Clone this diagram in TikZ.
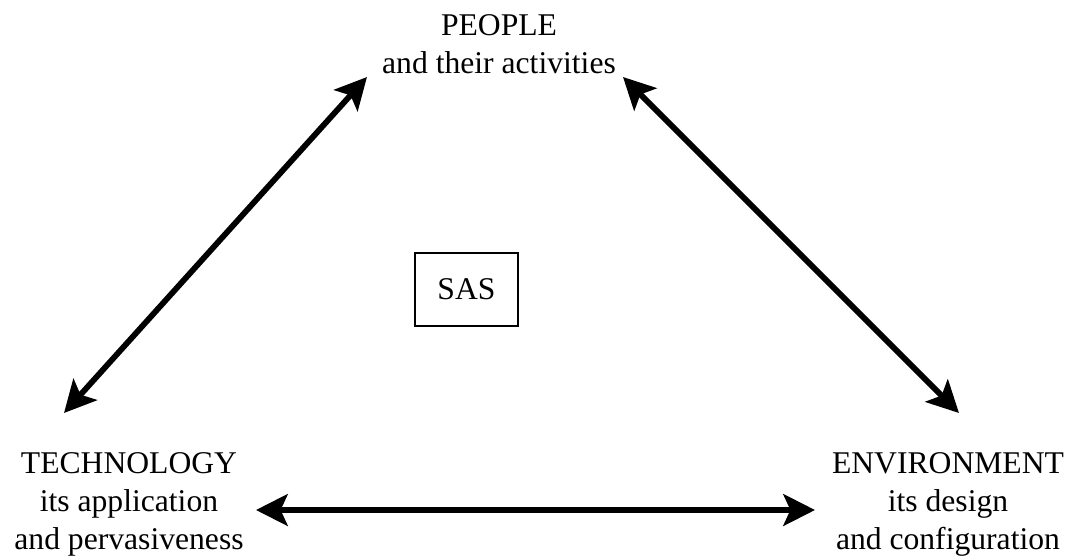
\documentclass[tikz,border=0pt]{standalone}
\usepackage{fontspec}
\setmainfont{Liberation Serif}
\usetikzlibrary{arrows.meta,positioning}

\begin{document}
\begin{tikzpicture}[x=0.02cm,y=-0.02cm,
  lbl/.style={align=center,inner sep=0pt,anchor=north,font=\fontsize{18}{21.6}\selectfont},
  link/.style={{Stealth[length=18pt,width=18pt,inset=4pt]}-{Stealth[length=18pt,width=18pt,inset=4pt]},line width=3.3pt}]
\useasboundingbox (0,0) rectangle (1076,556);
% the three corners
\node[lbl] (people) at (499,14) {PEOPLE\\and their activities};
\node[lbl] (tech) at (129,452) {TECHNOLOGY\\its application\\and pervasiveness};
\node[lbl] (env) at (948,452) {ENVIRONMENT\\its design\\and configuration};
\node[draw,line width=1.3pt,minimum width=58.6pt,minimum height=41.5pt,font=\fontsize{18}{21.6}\selectfont] (sas) at (466.5,289.5) {SAS};
% arrow ends
\coordinate (tech-up) at (64,413);
\coordinate (people-left) at (367,77);
\coordinate (people-right) at (623,77);
\coordinate (env-up) at (959,413);
\coordinate (tech-right) at (256,510);
\coordinate (env-left) at (815,510);
\draw[link] (tech-up) -- (people-left);
\draw[link] (people-right) -- (env-up);
\draw[link] (tech-right) -- (env-left);
\end{tikzpicture}
\end{document}
